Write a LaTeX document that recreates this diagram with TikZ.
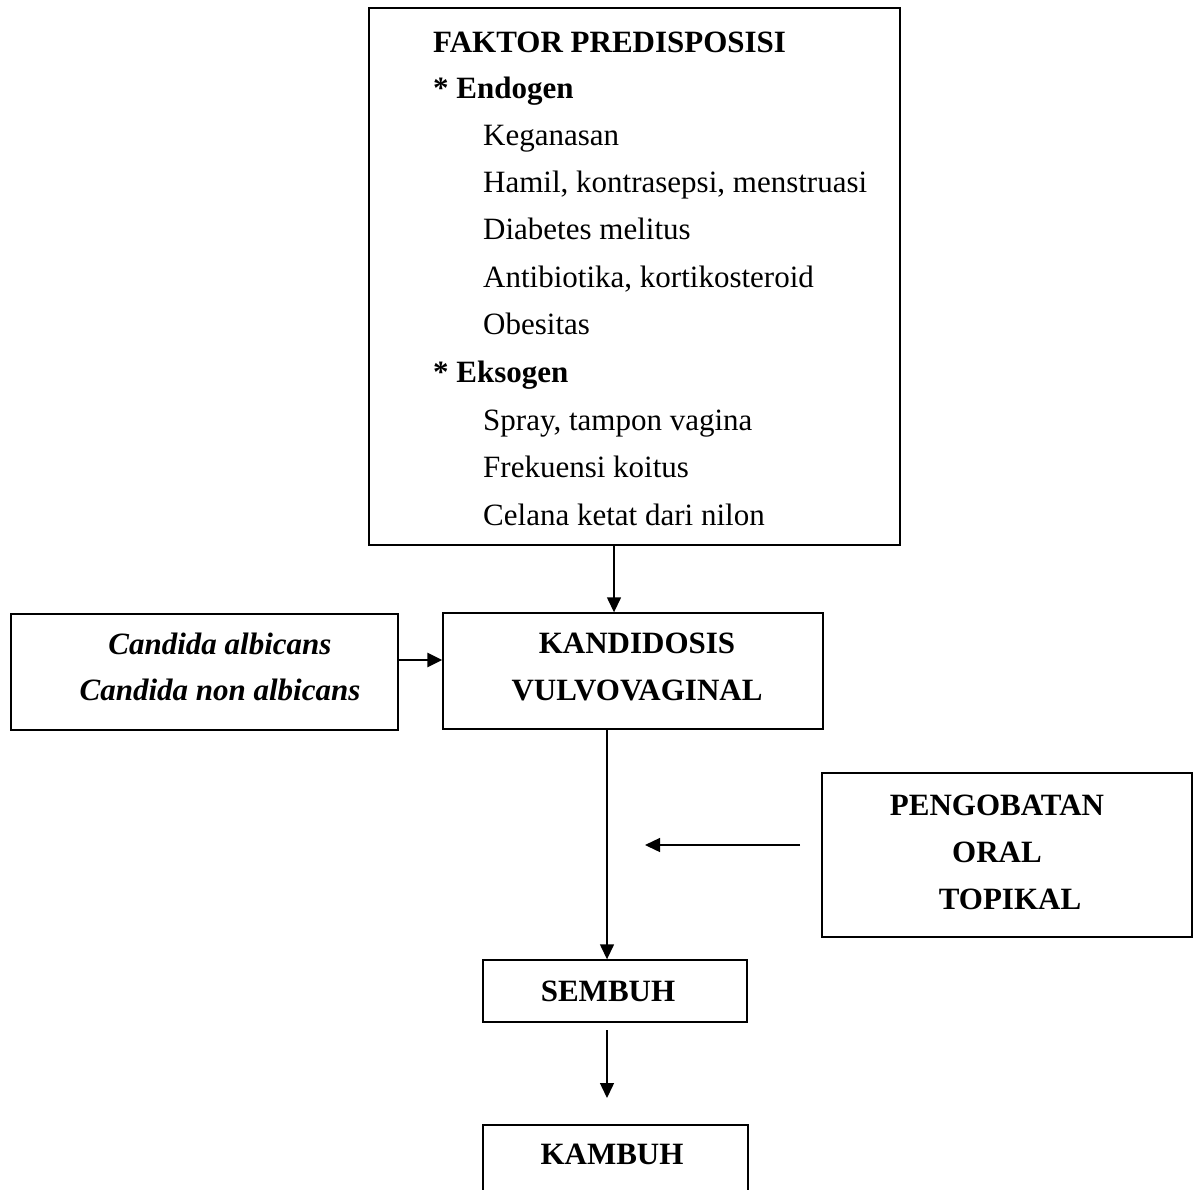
\documentclass[tikz,border=0pt]{standalone}
\usepackage{fontspec}
\setmainfont{Liberation Serif}
\usetikzlibrary{arrows.meta}
\begin{document}
\begin{tikzpicture}[x=1pt,y=-1pt,
  boxnode/.style={draw,line width=1.4pt,rectangle,inner sep=0pt},
  txt/.style={inner sep=0pt,font=\fontsize{31}{37}\selectfont},
  btxt/.style={inner sep=0pt,font=\fontsize{31}{37}\selectfont\bfseries},
  bitxt/.style={inner sep=0pt,font=\fontsize{31}{37}\selectfont\bfseries\itshape},
  conn/.style={line width=1.4pt,-{Triangle[length=15pt,width=14pt]}}]
\useasboundingbox (0,0) rectangle (1193,1189);
% boxes
\node[boxnode,minimum width=531pt,minimum height=537pt] (faktor) at (634.5,276.5) {};
\node[boxnode,minimum width=387pt,minimum height=116pt] (candida) at (204.5,672) {};
\node[boxnode,minimum width=380pt,minimum height=116pt] (kandi) at (633,671) {};
\node[boxnode,minimum width=370pt,minimum height=164pt] (obat) at (1007,855) {};
\node[boxnode,minimum width=264pt,minimum height=62pt] (sembuh) at (615,991) {};
\node[boxnode,minimum width=265pt,minimum height=120pt] (kambuh) at (615.5,1185) {};
% faktor text
\node[btxt,anchor=base west] (t0) at (433,52) {FAKTOR PREDISPOSISI};
\node[btxt,anchor=base west] (t1) at (433,98.2) {* Endogen};
\node[txt,anchor=base west] (t2) at (483,145.4) {Keganasan};
\node[txt,anchor=base west] (t3) at (483,192.6) {Hamil, kontrasepsi, menstruasi};
\node[txt,anchor=base west] (t4) at (483,239.8) {Diabetes melitus};
\node[txt,anchor=base west] (t5) at (483,287) {Antibiotika, kortikosteroid};
\node[txt,anchor=base west] (t6) at (483,334.2) {Obesitas};
\node[btxt,anchor=base west] (t7) at (433,382.4) {* Eksogen};
\node[txt,anchor=base west] (t8) at (483,430.6) {Spray, tampon vagina};
\node[txt,anchor=base west] (t9) at (483,477.8) {Frekuensi koitus};
\node[txt,anchor=base west] (t10) at (483,525) {Celana ketat dari nilon};
% candida text
\node[bitxt,anchor=base] (c1) at (220,654) {Candida albicans};
\node[bitxt,anchor=base] (c2) at (220,700) {Candida non albicans};
% kandidosis text
\node[btxt,anchor=base] (k1) at (637,653) {KANDIDOSIS};
\node[btxt,anchor=base] (k2) at (637,700) {VULVOVAGINAL};
% pengobatan text
\node[btxt,anchor=base] (p1) at (997,815) {PENGOBATAN};
\node[btxt,anchor=base] (p2) at (997,862) {ORAL};
\node[btxt,anchor=base] (p3) at (1010,909) {TOPIKAL};
% sembuh / kambuh
\node[btxt,anchor=base] (s1) at (608,1001) {SEMBUH};
\node[btxt,anchor=base] (s2) at (612,1164) {KAMBUH};
% connectors
\draw[conn] (faktor.south -| 614,0) -- (kandi.north -| 614,0);
\draw[conn,line width=2.6pt] (candida.east |- 0,660) -- (kandi.west |- 0,660);
\draw[conn] (kandi.south -| 607,0) -- (sembuh.north -| 607,0);
\coordinate (obatstart) at (800,845);
\coordinate (obatend) at (645,845);
\draw[conn] (obatstart) -- (obatend);
\coordinate (sbstart) at (607,1030);
\coordinate (sbend) at (607,1098);
\draw[conn] (sbstart) -- (sbend);
\end{tikzpicture}
\end{document}
